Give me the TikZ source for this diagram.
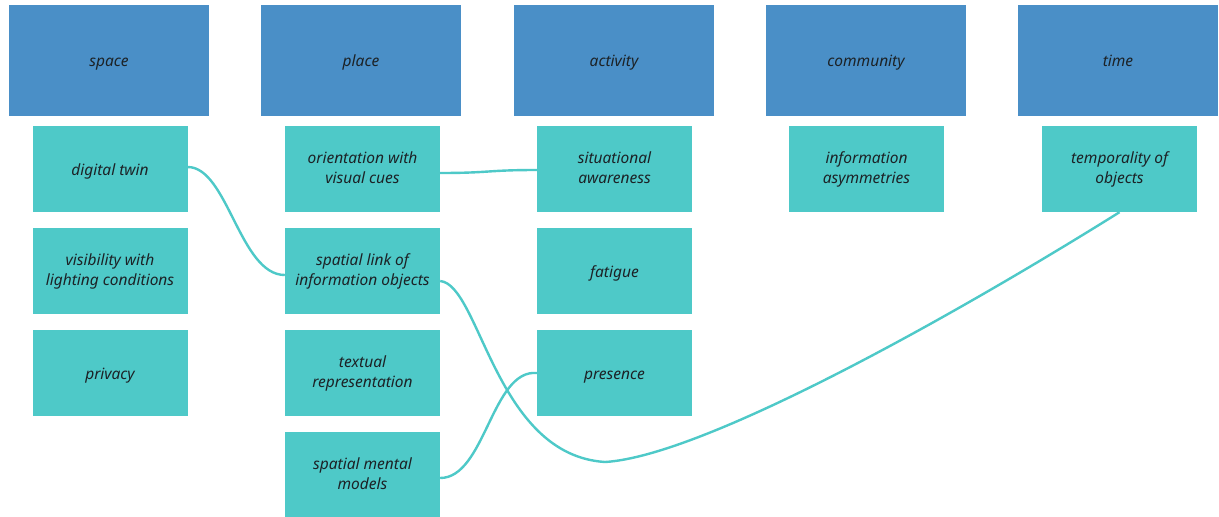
\documentclass[tikz,border=0pt]{standalone}
\usepackage{fontspec}
\setmainfont{Noto Sans}
\definecolor{headblue}{RGB}{74,143,199}
\definecolor{itemteal}{RGB}{78,201,200}
\definecolor{inktext}{RGB}{28,34,38}
\begin{document}
\begin{tikzpicture}[x=1pt,y=-1pt,
  boxtext/.style={inner sep=0pt,font=\fontsize{15.5}{20}\selectfont\itshape,text=inktext,align=center},
  header/.style={boxtext,fill=headblue,draw=none,minimum width=200pt,minimum height=111pt,
    text height=14pt,text depth=2pt},
  item/.style={boxtext,fill=itemteal,draw=none,minimum width=155pt,minimum height=86pt,
    text height=14pt,text depth=2pt},
  item2/.style={item,text height=34pt,text depth=6pt},
  link/.style={draw=itemteal,line width=2.4pt}]
\useasboundingbox (0,0) rectangle (1219,517);
\fill[white] (0,0) rectangle (1219,517);
\begin{scope}
\clip (0,0) rectangle (1219,517);
% category headers
\node[header] (hspace) at (109,60.5) {space};
\node[header] (hplace) at (361,60.5) {place};
\node[header] (hact) at (614,60.5) {activity};
\node[header] (hcom) at (866,60.5) {community};
\node[header] (htime) at (1118,60.5) {time};
% space column
\node[item] (twin) at (110,169) {digital twin};
\node[item2] (vis) at (110,271) {visibility with\\lighting conditions};
\node[item] (priv) at (110,373) {privacy};
% place column
\node[item2] (orient) at (362.5,169) {orientation with\\visual cues};
\node[item2] (slink) at (362.5,271) {spatial link of\\information objects};
\node[item2] (textual) at (362.5,373) {textual\\representation};
\node[item2] (mental) at (362.5,475) {spatial mental\\models};
% activity column
\node[item2] (situ) at (614.5,169) {situational\\awareness};
\node[item] (fat) at (614.5,271) {fatigue};
\node[item] (pres) at (614.5,373) {presence};
% community column
\node[item2] (asym) at (866.5,169) {information\\asymmetries};
% time column
\node[item2] (temp) at (1119.5,169) {temporality of\\objects};
\end{scope}
% connectors
\draw[link] ([yshift=2pt]twin.east) .. controls +(40pt,0pt) and +(-45pt,0pt) .. ([yshift=-4pt]slink.west);
\draw[link] ([yshift=-4pt]orient.east) .. controls +(50pt,0pt) and +(-50pt,0pt) .. ([yshift=-1pt]situ.west);
\draw[link] ([yshift=-10pt]slink.east) .. controls +(40pt,-4pt) and +(-110pt,7pt) .. (605,462)
  .. controls +(100pt,6pt) and +(-160pt,-100pt) .. (temp.south);
\draw[link] ([yshift=-3pt]mental.east) .. controls +(45pt,0pt) and +(-45pt,4pt) .. (pres.west);
\end{tikzpicture}
\end{document}
